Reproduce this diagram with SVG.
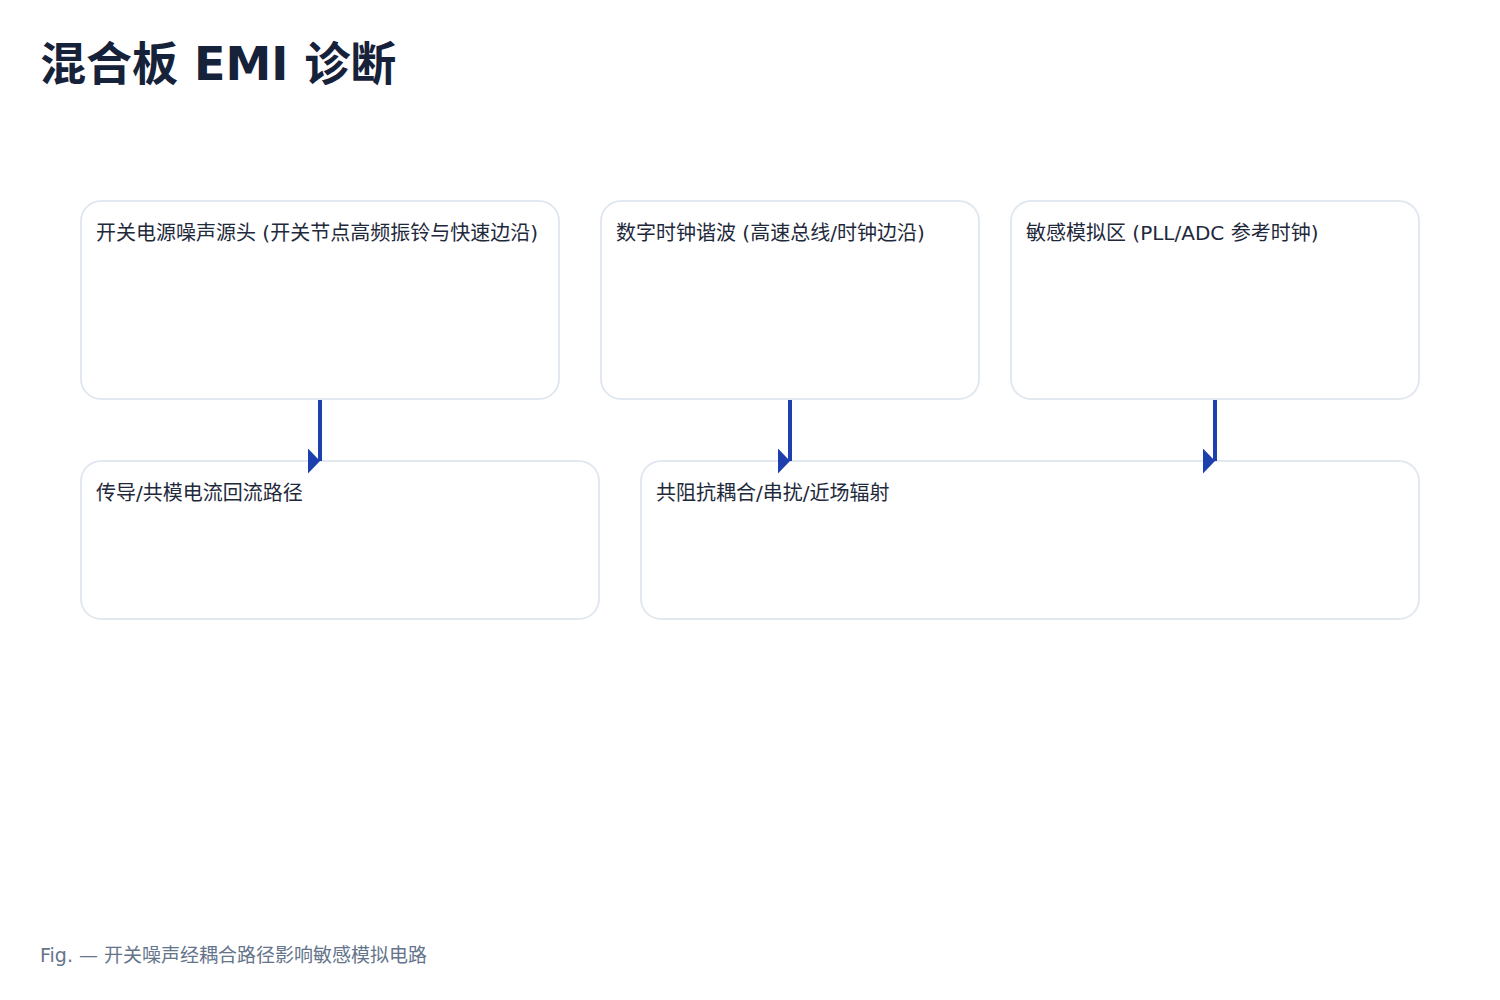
<svg xmlns="http://www.w3.org/2000/svg" width="1500" height="1000" viewBox="0 0 1500 1000">
  <style>
    .title { font-family: "DejaVu Sans", "Noto Sans CJK SC", sans-serif; font-size: 46px; font-weight: bold; fill: #16213a; }
    .node rect { fill: #ffffff; stroke: #e2e8f0; stroke-width: 2; }
    .label { font-family: "DejaVu Sans", "Noto Sans CJK SC", sans-serif; font-size: 20px; fill: #1e293b; }
    .caption { font-family: "DejaVu Sans", "Noto Sans CJK SC", sans-serif; font-size: 19px; fill: #64748b; }
    .edge { stroke: #1e40af; stroke-width: 4; fill: none; }
  </style>
  <defs>
    <marker id="arrow" viewBox="0 0 12 25" refX="12" refY="12.5" markerWidth="12" markerHeight="25" markerUnits="userSpaceOnUse" orient="0">
      <path d="M0,0 L12,12.5 L0,25 z" fill="#1e40af"/>
    </marker>
  </defs>
  <rect width="1500" height="1000" fill="#ffffff"/>
  <text class="title" x="40" y="80">混合板 EMI 诊断</text>

  <g id="n1" class="node">
    <rect x="81" y="201" width="478" height="198" rx="20"/>
    <text class="label" x="96" y="240">开关电源噪声源头 (开关节点高频振铃与快速边沿)</text>
  </g>
  <g id="n2" class="node">
    <rect x="601" y="201" width="378" height="198" rx="20"/>
    <text class="label" x="616" y="240">数字时钟谐波 (高速总线/时钟边沿)</text>
  </g>
  <g id="n3" class="node">
    <rect x="1011" y="201" width="408" height="198" rx="20"/>
    <text class="label" x="1026" y="240">敏感模拟区 (PLL/ADC 参考时钟)</text>
  </g>
  <g id="n4" class="node">
    <rect x="81" y="461" width="518" height="158" rx="20"/>
    <text class="label" x="96" y="500">传导/共模电流回流路径</text>
  </g>
  <g id="n5" class="node">
    <rect x="641" y="461" width="778" height="158" rx="20"/>
    <text class="label" x="656" y="500">共阻抗耦合/串扰/近场辐射</text>
  </g>

  <g id="edges">
    <line class="edge" x1="320" y1="400" x2="320" y2="461" marker-end="url(#arrow)"/>
    <line class="edge" x1="790" y1="400" x2="790" y2="461" marker-end="url(#arrow)"/>
    <line class="edge" x1="1215" y1="400" x2="1215" y2="461" marker-end="url(#arrow)"/>
  </g>

  <text class="caption" x="40" y="962">Fig. — 开关噪声经耦合路径影响敏感模拟电路</text>
</svg>
